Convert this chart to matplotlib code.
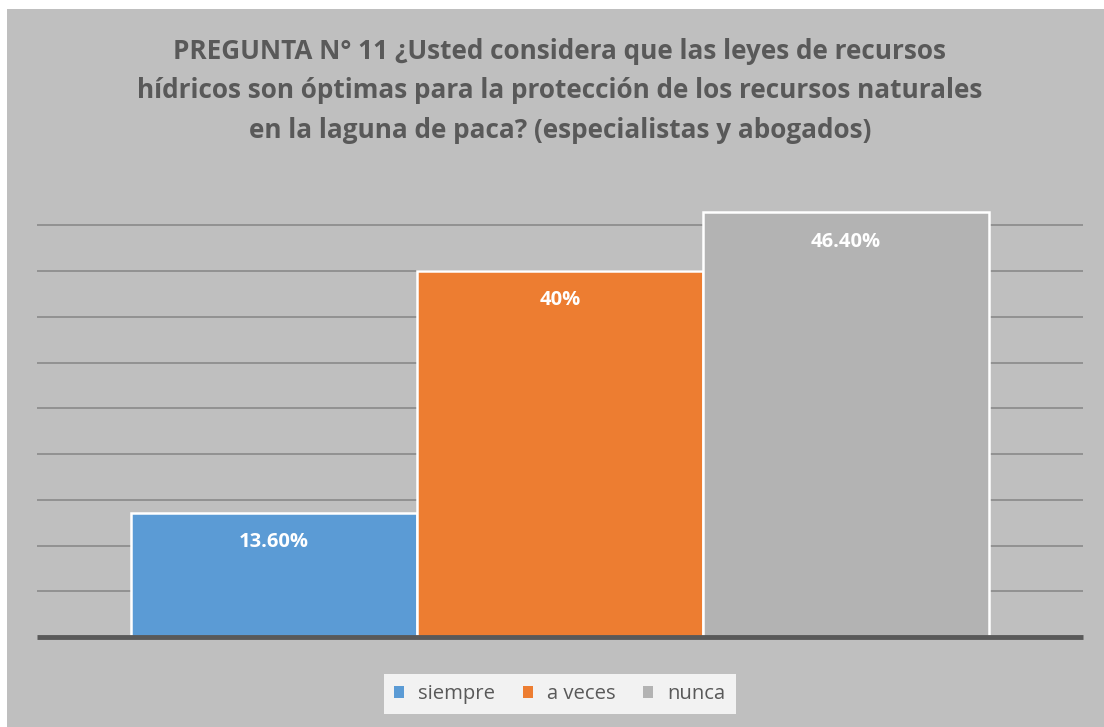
import matplotlib
matplotlib.use("Agg")
import matplotlib.pyplot as plt
from matplotlib.patches import Rectangle

categories = ["siempre", "a veces", "nunca"]
values = [13.6, 40.0, 46.4]
value_labels = ["13.60%", "40%", "46.40%"]
colors = ["#5b9bd5", "#ed7d31", "#b3b3b3"]
title = ("PREGUNTA N° 11 ¿Usted considera que las leyes de recursos\n"
         "hídricos son óptimas para la protección de los recursos naturales\n"
         "en la laguna de paca? (especialistas y abogados)")
grid_values = [5, 10, 15, 20, 25, 30, 35, 40, 45]

plt.rcParams['font.family'] = ['Open Sans', 'DejaVu Sans']

fig = plt.figure(figsize=(11.04, 7.27), dpi=100)
fig.patch.set_facecolor("white")
fig.patches.append(Rectangle((7/1104, 0), 1 - 7/1104, 1 - 9/727,
                             transform=fig.transFigure, facecolor="#bfbfbf",
                             edgecolor="none", zorder=-5))

ax = fig.add_axes([37/1104, 90/727, 1046/1104, 457.5/727])
ax.set_zorder(2)
ax.set_facecolor("none")
ax.set_xlim(-0.83, 2.83)
ax.set_ylim(0, 50)

for g in grid_values:
    ax.axhline(g, color="#8a8a8a", lw=1.2, zorder=1)

x = list(range(len(categories)))
bars = ax.bar(x, values, width=1.0, color=colors, edgecolor="white",
              linewidth=1.8, zorder=2, label=categories)
ax.axhline(0, color="#595959", lw=3.5, zorder=3, clip_on=False,
           solid_capstyle="butt")

for xi, v, lab in zip(x, values, value_labels):
    ax.annotate(lab, (xi, v), xytext=(0, -21), textcoords="offset points",
                ha="center", va="center", color="white", fontsize=14.5,
                fontweight="bold", zorder=4)

for s in ax.spines.values():
    s.set_visible(False)
ax.set_xticks([])
ax.set_yticks([])

fig.text(0.507, (727 - 91) / 727, title, ha="center", va="center",
         fontsize=18.8, fontweight="bold", color="#595959", linespacing=1.6)

handles = [bars[i] for i in range(3)]
leg = fig.legend(handles, categories, loc="center", bbox_to_anchor=(0.507, 33/727),
                 ncol=3, frameon=True, fontsize=14.6, handlelength=0.5,
                 handleheight=0.5, handletextpad=0.7, columnspacing=1.35,
                 borderpad=0.5, borderaxespad=0, fancybox=False, framealpha=1)
leg.get_frame().set_facecolor("#f2f2f2")
leg.get_frame().set_edgecolor("none")
for t in leg.get_texts():
    t.set_color("#595959")
for h in leg.legend_handles:
    h.set_edgecolor("none")

fig.savefig("out.png", dpi=100, facecolor=fig.get_facecolor())
